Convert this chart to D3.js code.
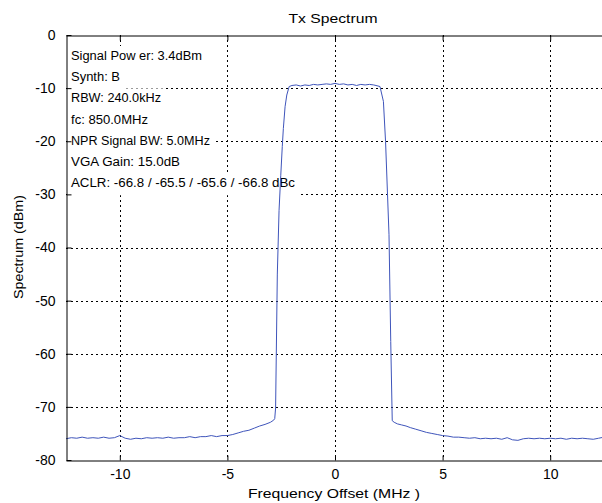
<!DOCTYPE html>
<html>
<head>
<meta charset="utf-8">
<script src="https://cdn.jsdelivr.net/npm/d3@7"></script>
<style>
  body { margin: 0; background: #fff; }
  text { font-family: "Liberation Sans", Arial, sans-serif; }
</style>
</head>
<body>
<div id="chart"></div>
<script>
// spectrum trace
var freq = [-12.5, -12.25, -12.0, -11.75, -11.5, -11.25, -11.0, -10.75, -10.5, -10.25,
  -10.0, -9.75, -9.5, -9.25, -9.0, -8.75, -8.5, -8.25, -8.0, -7.75,
  -7.5, -7.25, -7.0, -6.75, -6.5, -6.25, -6.0, -5.75, -5.5, -5.25,
  -5.0, -4.75, -4.5, -4.25, -4.0, -3.75, -3.5, -3.25, -3.0, -2.85,
  -2.8, -2.76, -2.68, -2.6, -2.52, -2.45, -2.4, -2.32, -2.24, -2.13,
  -2.0, -1.8, -1.6, -1.4, -1.2, -1.0, -0.8, -0.6, -0.4, -0.2,
  0.0, 0.2, 0.4, 0.6, 0.8, 1.0, 1.2, 1.4, 1.6, 1.8,
  2.0, 2.09, 2.25, 2.35, 2.51, 2.59, 2.66, 2.75, 2.9, 3.1,
  3.3, 3.5, 3.75, 4.0, 4.25, 4.5, 4.75, 5.0, 5.25, 5.5,
  5.75, 6.0, 6.25, 6.5, 6.75, 7.0, 7.25, 7.5, 7.75, 8.0,
  8.25, 8.5, 8.75, 9.0, 9.25, 9.5, 9.75, 10.0, 10.25, 10.5,
  10.75, 11.0, 11.25, 11.5, 11.75, 12.0, 12.25, 12.5]
var power = [-76.0, -75.8, -75.9, -75.7, -75.9, -75.8, -75.9, -75.7, -75.9, -75.8,
  -75.4, -75.9, -76.1, -75.9, -76.0, -75.8, -75.9, -75.8, -75.9, -75.7,
  -75.9, -75.8, -75.8, -75.6, -75.8, -75.6, -75.6, -75.4, -75.6, -75.4,
  -75.4, -75.2, -74.9, -74.6, -74.4, -74.0, -73.6, -73.3, -72.9, -72.5,
  -72.2, -70.2, -45.0, -33.0, -26.4, -21.0, -17.6, -13.5, -11.3, -9.7,
  -9.5, -9.4, -9.6, -9.4, -9.5, -9.3, -9.4, -9.3, -9.2, -9.3,
  -9.1, -9.3, -9.2, -9.4, -9.3, -9.5, -9.3, -9.4, -9.3, -9.4,
  -9.6, -9.7, -12.5, -20.1, -37.6, -57.7, -72.6, -72.9, -73.2, -73.4,
  -73.6, -73.9, -74.2, -74.5, -74.8, -75.0, -75.2, -75.4, -75.5, -75.7,
  -75.7, -75.8, -75.9, -75.8, -76.0, -75.9, -76.0, -75.9, -76.1, -75.8,
  -76.2, -76.3, -76.0, -75.9, -76.0, -75.9, -76.0, -75.9, -76.0, -75.9,
  -76.1, -75.9, -76.0, -75.9, -76.0, -76.1, -75.9, -75.7]

var xTicks = [-10, -5, 0, 5, 10]
var yTicks = [0, -10, -20, -30, -40, -50, -60, -70, -80]
var infoLines = ['Signal Pow er: 3.4dBm', 'Synth: B', 'RBW: 240.0kHz', 'fc: 850.0MHz',
  'NPR Signal BW: 5.0MHz', 'VGA Gain: 15.0dB', 'ACLR: -66.8 / -65.5 / -65.6 / -66.8 dBc']

var width = 602, height = 503
var plotL = 66, plotR = 604, plotT = 35, plotB = 460
// rendered widths of the info lines in the reference (MATLAB font is wider)
var infoWidths = [131, 49, 90, 77, 139, 109, 224]

var svg = d3.select('#chart').append('svg')
    .attr('width', width)
    .attr('height', height)

var x = d3.scaleLinear().domain([-12.5, 12.5]).range([plotL, plotR])
var y = d3.scaleLinear().domain([-80, 0]).range([plotB, plotT])

// grid
var grid = svg.append('g')
grid.selectAll('.vg')
    .data(xTicks)
    .enter()
    .append('line')
    .attr('x1', d => Math.round(x(d)) + 0.5).attr('x2', d => Math.round(x(d)) + 0.5)
    .attr('y1', plotT).attr('y2', plotB)
    .attr('stroke', '#000')
    .attr('stroke-dasharray', '2,3')
grid.selectAll('.hg')
    .data(yTicks.slice(1, -1))
    .enter()
    .append('line')
    .attr('x1', plotL).attr('x2', plotR)
    .attr('y1', d => Math.round(y(d)) + 0.5).attr('y2', d => Math.round(y(d)) + 0.5)
    .attr('stroke', '#000')
    .attr('stroke-dasharray', '2,3')

// info text with white backing boxes
var info = svg.append('g')
infoLines.forEach(function(s, i) {
    var base = 60 + i * 21.2
    info.append('rect')
        .attr('x', 67).attr('y', base - 14)
        .attr('width', infoWidths[i] + 8).attr('height', 22)
        .attr('fill', '#fff')
    info.append('text')
        .attr('x', 71)
        .attr('y', base)
        .attr('font-size', 12.5)
        .attr('fill', '#000')
        .attr('textLength', infoWidths[i])
        .attr('lengthAdjust', 'spacingAndGlyphs')
        .text(s)
})

// spectrum line
var pts = freq.map((f, i) => [f, power[i]])
svg.append('path')
    .datum(pts)
    .attr('fill', 'none')
    .attr('stroke', '#3f55bb')
    .attr('stroke-width', 1)
    .attr('d', d3.line().x(d => x(d[0])).y(d => y(d[1])))

// axes
var fmt = d => String(d)
svg.append('g')
    .attr('transform', 'translate(0,' + (plotB + 0.5) + ')')
    .call(d3.axisBottom(x).tickValues(xTicks).tickSizeInner(-5).tickSizeOuter(0).tickPadding(9).tickFormat(fmt))
svg.append('g')
    .attr('transform', 'translate(0,' + (plotT + 0.5) + ')')
    .call(d3.axisTop(x).tickValues(xTicks).tickSizeInner(-5).tickSizeOuter(0).tickFormat(''))
svg.append('g')
    .attr('transform', 'translate(' + (plotL + 0.5) + ',0)')
    .call(d3.axisLeft(y).tickValues(yTicks).tickSizeInner(-5).tickSizeOuter(0).tickPadding(11).tickFormat(fmt))

svg.selectAll('.domain').attr('stroke', '#000')
svg.selectAll('.tick line').attr('stroke', '#000')
svg.selectAll('.tick text')
    .attr('font-family', '"Liberation Sans", Arial, sans-serif')
    .attr('font-size', 14)
    .attr('fill', '#000')

// titles
svg.append('text')
    .attr('x', 333).attr('y', 23)
    .attr('text-anchor', 'middle')
    .attr('font-size', 13.5)
    .attr('textLength', 89)
    .attr('lengthAdjust', 'spacingAndGlyphs')
    .text('Tx Spectrum')
svg.append('text')
    .attr('x', 334).attr('y', 498)
    .attr('text-anchor', 'middle')
    .attr('font-size', 13.5)
    .attr('textLength', 172)
    .attr('lengthAdjust', 'spacingAndGlyphs')
    .text('Frequency Offset (MHz )')
svg.append('text')
    .attr('transform', 'translate(23,247) rotate(-90)')
    .attr('text-anchor', 'middle')
    .attr('font-size', 13.5)
    .attr('textLength', 104)
    .attr('lengthAdjust', 'spacingAndGlyphs')
    .text('Spectrum (dBm)')
</script>
</body>
</html>
